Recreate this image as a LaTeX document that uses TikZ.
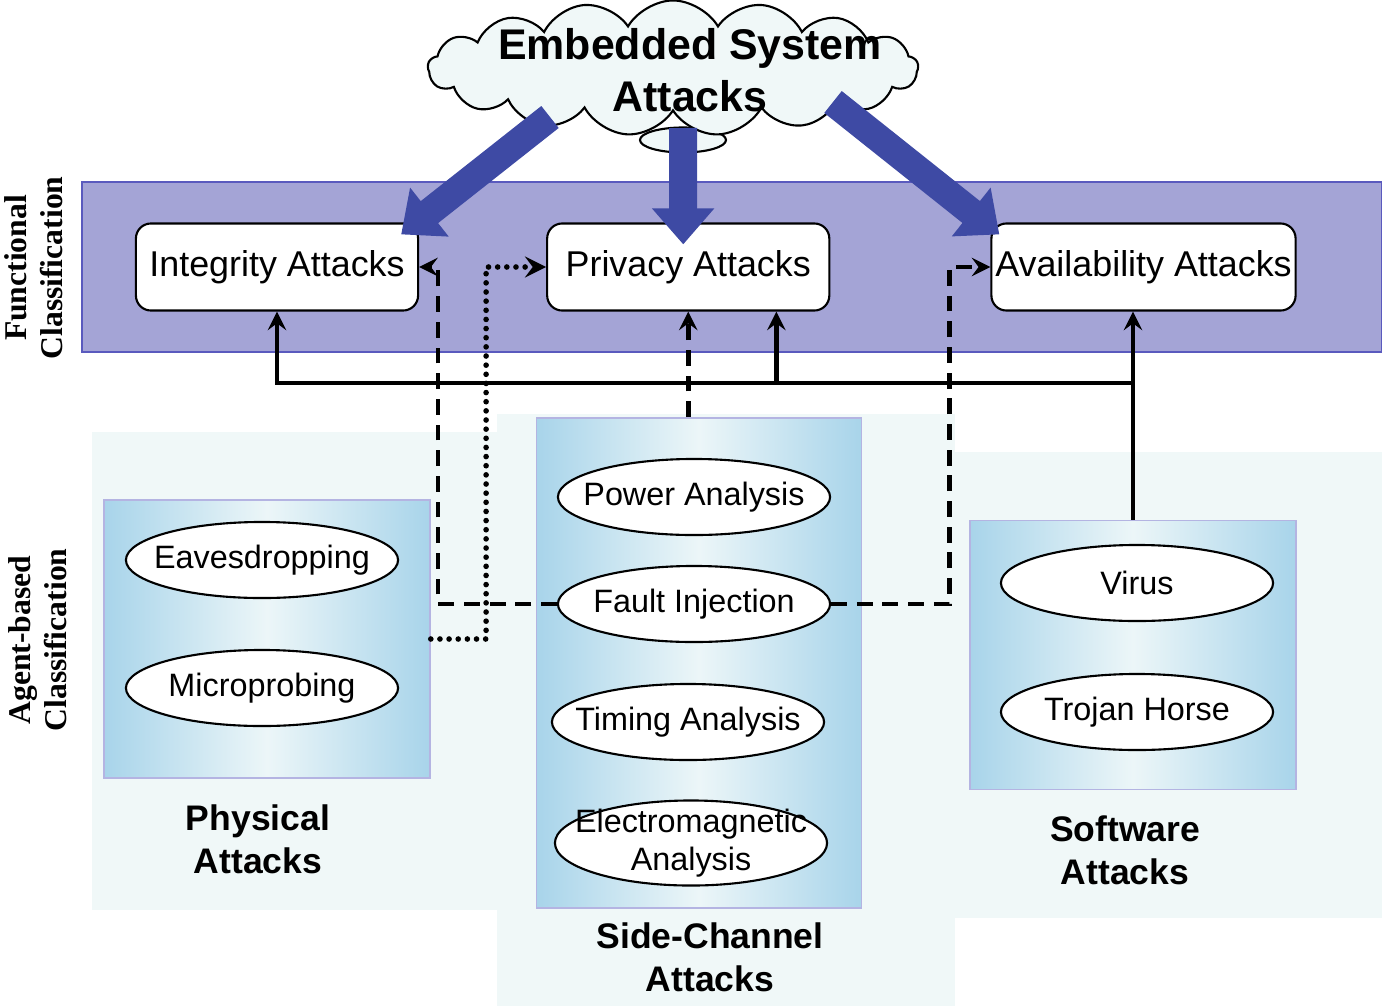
\documentclass[tikz,border=0pt]{standalone}
\usepackage{fontspec}
\setmainfont{Liberation Sans}
\newfontfamily\sideserif{Liberation Serif}
\usetikzlibrary{shapes,arrows,arrows.meta,positioning,fit,calc}
\definecolor{bandviolet}{RGB}{164,164,214}
\definecolor{bandedge}{RGB}{90,90,190}
\definecolor{paleteal}{RGB}{240,248,248}
\definecolor{panelblue}{RGB}{168,212,234}
\definecolor{panelwhite}{RGB}{236,246,248}
\definecolor{paneledge}{RGB}{180,180,226}
\definecolor{arrowblue}{RGB}{62,74,164}

\begin{document}
\begin{tikzpicture}[x=0.01cm, y=-0.01cm, node distance=4.11cm, auto]
  \tikzstyle{box} = [rectangle, draw, fill=white, rounded corners=0.15cm, minimum width=2.82cm, minimum height=0.87cm, inner sep=0pt, line width=0.6pt, font=\fontsize{10.2}{12}\selectfont]
  \tikzstyle{attack} = [ellipse, draw, fill=white, minimum width=2.72cm, minimum height=0.76cm, inner xsep=-0.2cm, inner ysep=-0.1cm, line width=0.6pt, font=\fontsize{9.2}{11}\selectfont]
  \tikzstyle{panel} = [rectangle, draw=paneledge, left color=panelblue, right color=panelblue, middle color=panelwhite, inner sep=0pt]
  \tikzstyle{group} = [font=\bfseries\fontsize{10.1}{12.2}\selectfont, align=center]
  \tikzstyle{side} = [font=\sideserif\bfseries\fontsize{9}{10.2}\selectfont, align=center, rotate=90]
  \tikzstyle{arrow} = [line width=1.3pt,->,>=stealth]
  \tikzstyle{dashline} = [arrow, dash pattern=on 4.5pt off 2.8pt]
  \tikzstyle{dotline} = [arrow, dash pattern=on 0pt off 2.6pt, line cap=round, line width=1.6pt]
  \tikzstyle{bigarrow} = [line width=2.8mm, draw=arrowblue, -{Triangle[width=6mm,length=3.6mm]}]
  \useasboundingbox (0,0) rectangle (1382,1006);

  % bands and panels
  \filldraw[fill=bandviolet, draw=bandedge, line width=0.3pt] (82,182) rectangle (1382,352);
  \fill[paleteal] (92,432) rectangle (497,910);
  \fill[paleteal] (497,414) rectangle (955,1006);
  \fill[paleteal] (955,452) rectangle (1382,918);
  \node[panel, minimum width=3.26cm, minimum height=2.78cm] (physbox) at (267,639) {};
  \node[panel, minimum width=3.25cm, minimum height=4.90cm] (scbox) at (699,663) {};
  \node[panel, minimum width=3.26cm, minimum height=2.69cm] (swbox) at (1133,655) {};

  \node[side] (funclbl) at (34,268) {Functional\\Classification};
  \node[side] (agentlbl) at (38,640) {Agent-based\\Classification};

  % cloud
  \node[ellipse, draw, fill=paleteal, minimum width=0.86cm, minimum height=0.25cm, inner sep=0pt, line width=0.6pt] (puff) at (683,140) {};
  \node[cloud, draw, fill=paleteal, cloud puffs=17, cloud puff arc=120, aspect=3.6, minimum width=4.9cm, minimum height=1.35cm, line width=0.6pt] (esa) at (673,68) {};
  \node[font=\bfseries\fontsize{12.2}{14.8}\selectfont, align=center] (esatitle) at (690,70) {Embedded System\\Attacks};

  % functional classes
  \node[box] (integ) at (277,267) {Integrity Attacks};
  \node[box, right of=integ] (priv) {Privacy Attacks};
  \node[box, right of=priv, node distance=4.55cm, minimum width=3.04cm] (avail) {Availability Attacks};

  % agent-based classes
  \node[attack] (eaves) at (262,560) {Eavesdropping};
  \node[attack] (micro) at (262,688) {Microprobing};
  \node[attack] (power) at (694,497) {Power Analysis};
  \node[attack] (fault) at (694,604) {Fault Injection};
  \node[attack] (timing) at (688,722) {Timing Analysis};
  \node[attack, align=center, inner ysep=-0.3cm, minimum height=0.85cm] (emag) at (691,843) {Electromagnetic\\Analysis};
  \node[attack] (virus) at (1137,583) {Virus};
  \node[attack] (trojan) at (1137,712) {Trojan Horse};

  \node[group] (physlbl) at (258,839) {Physical\\Attacks};
  \node[group] (sclbl) at (710,957) {Side-Channel\\Attacks};
  \node[group] (swlbl) at (1125,850) {Software\\Attacks};

  % links
  \coordinate (bus) at (swbox.north |- 0,383);
  \coordinate (privin) at ($(priv.south east)+(-54,0)$);
  \draw[arrow] (swbox.north) -- (swbox.north |- avail.south);
  \draw[arrow] (bus) -| (integ.south);
  \draw[arrow] (bus -| privin) -- (privin);
  \draw[dashline] (fault.west) -| ($(integ.east)+(19,0)$) -- (integ.east);
  \draw[dashline] (fault.east) -| ($(avail.west)+(-41,0)$) -- (avail.west);
  \draw[dashline] (scbox.north -| priv.south) -- (priv.south);
  \draw[dotline] (physbox.east) -| ($(priv.west)+(-60,0)$) -- (priv.west);

  \draw[bigarrow] ($(esa.center)+(-123,49)$) -- ($(integ.north east)+(-18,12)$);
  \draw[bigarrow] ($(esa.center)+(10,60)$) -- ($(priv.north)+(-5,22)$);
  \draw[bigarrow] ($(esa.center)+(160,34)$) -- ($(avail.north west)+(9,12)$);
\end{tikzpicture}
\end{document}
